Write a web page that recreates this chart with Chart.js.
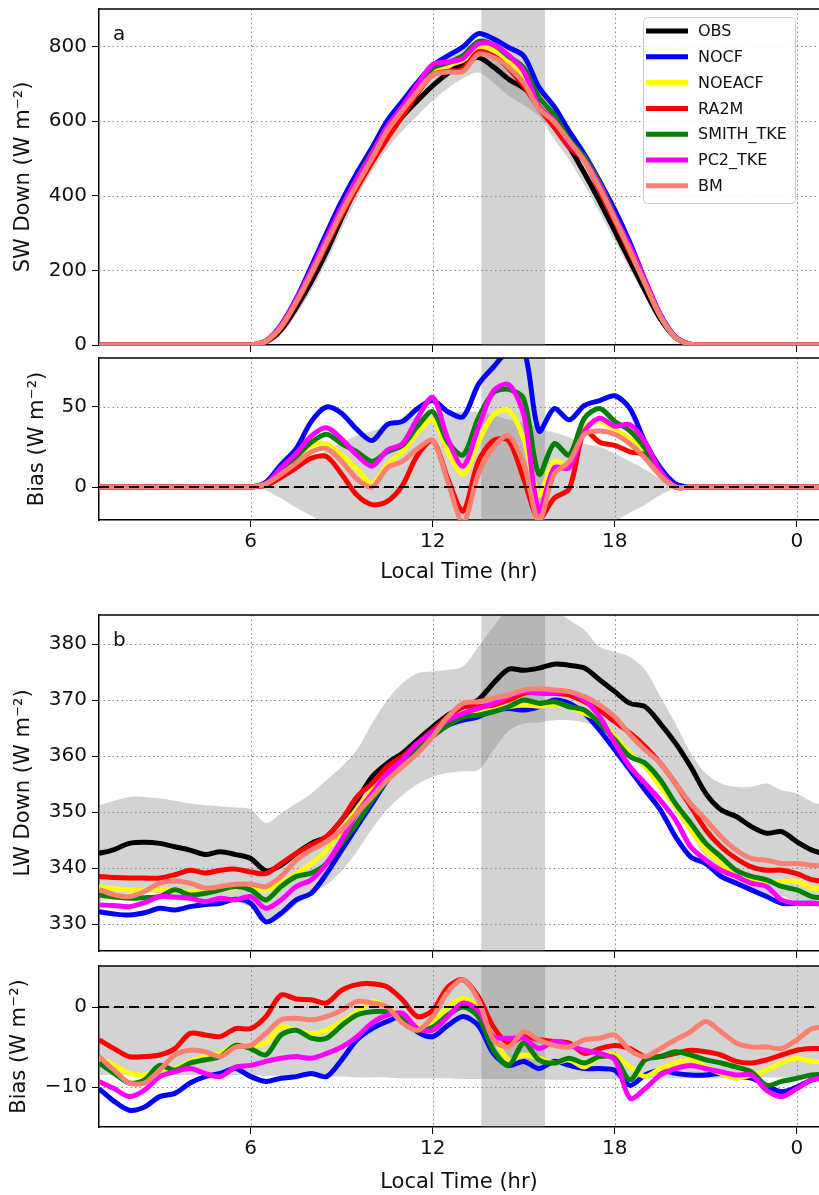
<!DOCTYPE html>
<html>
<head>
<meta charset="utf-8">
<script src="https://cdn.jsdelivr.net/npm/chart.js@4.4.1/dist/chart.umd.min.js"></script>
<style>
  html, body { margin: 0; padding: 0; background: #fff; overflow: hidden; width: 819px; height: 1195px; }
  canvas { position: absolute; left: 0; }
</style>
</head>
<body>
<canvas id="swChart" width="819" height="355" style="top:0px"></canvas>
<canvas id="swBias" width="819" height="235" style="top:350px"></canvas>
<canvas id="lwChart" width="819" height="361" style="top:600px"></canvas>
<canvas id="lwBias" width="819" height="234" style="top:961px"></canvas>
<script>
// ---- data -------------------------------------------------------------
const HOURS = [1,1.5,2,2.5,3,3.5,4,4.5,5,5.5,6,6.5,7,7.5,8,8.5,9,9.5,10,10.5,11,11.5,12,12.5,13,13.5,14,14.5,15,15.5,16,16.5,17,17.5,18,18.5,19,19.5,20,20.5,21,21.5,22,22.5,23,23.5,24,24.5,25];

const SERIES = ["OBS", "NOCF", "NOEACF", "RA2M", "SMITH_TKE", "PC2_TKE", "BM"];
const COLORS = ["#000000", "#0000ff", "#ffff00", "#ff0000", "#008000", "#ff00ff", "#fa8072"];

const X_TICKS = [6, 12, 18, 24];
const X_TICK_LABELS = ["6", "12", "18", "0"];
const SPAN_HOURS = [13.6, 15.7];

// SW down (W m-2)
const SW_OBS    = [0,0,0,0,0,0,0,0,0,0,0, 8,40,100,170,250,340,425,500,562,612,655,695,728,755,770,745,712,688,655,590,530,460,385,305,225,145,70,20, 2, 0,0,0,0,0,0,0,0,0];
const SW_NOCF   = [0,0,0,0,0,0,0,0,0,0,0, 11,54,124,211,300,386,461,529,601,653,704,749,775,799,834,820,797,774,690,639,572,511,439,362,274,173,82,22, 2, 0,0,0,0,0,0,0,0,0];
const SW_NOEACF = [0,0,0,0,0,0,0,0,0,0,0, 10,48,118,196,277,360,436,502,576,634,689,737,750,763,798,790,760,718,650,606,544,497,426,341,255,167,78,20, 2, 0,0,0,0,0,0,0,0,0];
const SW_RA2M   = [0,0,0,0,0,0,0,0,0,0,0, 9,46,112,188,269,348,420,489,553,613,675,724,733,740,786,774,741,693,635,583,529,495,413,331,247,165,78,20, 2, 0,0,0,0,0,0,0,0,0];
const SW_SMITH  = [0,0,0,0,0,0,0,0,0,0,0, 10,50,119,198,283,367,447,516,584,638,693,742,756,775,813,804,773,743,663,617,550,503,434,346,260,169,78,20, 2, 0,0,0,0,0,0,0,0,0];
const SW_PC2    = [0,0,0,0,0,0,0,0,0,0,0, 10,52,121,202,287,370,445,513,585,639,698,751,758,768,807,805,776,733,640,602,542,495,428,343,264,173,80,20, 2, 0,0,0,0,0,0,0,0,0];
const SW_BM     = [0,0,0,0,0,0,0,0,0,0,0, 10,48,115,192,274,356,430,500,574,628,679,724,731,733,778,770,744,702,634,598,546,493,420,338,252,163,77,20, 2, 0,0,0,0,0,0,0,0,0];
const SW_OBS_HI = [0,0,0,0,0,0,0,0,0,0,0, 11,50,118,194,278,370,457,534,598,650,695,735,768,795,810,787,757,733,697,628,565,492,415,332,247,160,78,23, 2, 0,0,0,0,0,0,0,0,0];
const SW_OBS_LO = [0,0,0,0,0,0,0,0,0,0,0, 5,30,82,146,222,310,393,466,526,574,615,655,688,715,730,703,667,643,613,552,495,428,355,278,203,130,62,17, 2, 0,0,0,0,0,0,0,0,0];

// SW bias (model - obs)
const SWB_NOCF   = [0,0,0,0,0,0,0,0,0,0,0, 3,14,24,41,50,46,36,29,39,41,49,54,47,44,64,75,85,86,35,49,42,51,54,57,49,28,12,2, 0,0,0,0,0,0,0,0,0,0];
const SWB_NOEACF = [0,0,0,0,0,0,0,0,0,0,0, 2,8,18,26,27,20,11,2,14,22,34,42,22,8,28,45,48,30,-5,16,14,37,41,36,30,22,8,0, 0,0,0,0,0,0,0,0,0,0];
const SWB_RA2M   = [0,0,0,0,0,0,0,0,0,0,0, 1,6,12,18,19,8,-5,-11,-9,1,20,29,5,-15,16,29,29,5,-20,-7,-1,35,28,26,22,20,8,0, 0,0,0,0,0,0,0,0,0,0];
const SWB_SMITH  = [0,0,0,0,0,0,0,0,0,0,0, 2,10,19,28,33,27,22,16,22,26,38,47,28,20,43,59,61,55,8,27,20,43,49,41,35,24,8,0, 0,0,0,0,0,0,0,0,0,0];
const SWB_PC2    = [0,0,0,0,0,0,0,0,0,0,0, 2,12,21,32,37,30,20,13,23,27,43,56,30,13,37,60,64,45,-15,12,12,35,43,38,39,28,10,0, 0,0,0,0,0,0,0,0,0,0];
const SWB_BM     = [0,0,0,0,0,0,0,0,0,0,0, 2,8,15,22,24,16,5,0,12,16,24,29,3,-22,8,25,32,14,-21,8,16,33,35,33,27,18,7,0, 0,0,0,0,0,0,0,0,0,0];
const SWB_SPREAD_HI = [0,0,0,0,0,0,0,0,0,0,0, 2,7,13,18,23,28,32,35,38,41,44,45,46,47,47,45,42,40,37,34,31,27,25,21,16,11,5,1, 0,0,0,0,0,0,0,0,0,0];
const SWB_SPREAD_LO = [0,0,0,0,0,0,0,0,0,0,0, -2,-7,-13,-18,-23,-28,-32,-35,-38,-41,-44,-45,-46,-47,-47,-45,-42,-40,-37,-34,-31,-27,-25,-21,-16,-11,-5,-1, 0,0,0,0,0,0,0,0,0,0];

// LW down (W m-2)
const LW_OBS    = [342.6,343.3,344.4,344.6,344.4,343.8,343.2,342.4,342.9,342.4,341.7,339.5,340.5,342.6,344.4,345.6,348.6,352.1,356.3,358.7,360.5,362.9,365.2,367.3,368.8,370.0,373.0,375.5,375.3,375.7,376.4,376.2,375.7,373.6,371.5,369.4,368.8,365.8,362.3,358.1,353.3,350.4,349.2,347.4,346.2,346.5,344.7,343.2,342.4];
const LW_NOCF   = [332.2,331.8,331.6,332.0,332.8,332.5,333.1,333.5,333.7,334.4,333.7,330.4,331.9,334.3,335.5,339.0,343.2,347.4,351.5,355.7,359.3,361.7,364.0,365.5,366.4,367.0,368.2,368.5,368.2,368.8,370.0,369.4,367.6,364.6,361.1,357.5,353.9,350.4,345.6,342.0,340.8,338.5,337.3,336.1,334.9,333.7,333.7,333.7,333.5];
const LW_NOEACF = [336.7,336.3,336.1,336.0,336.1,336.0,335.8,335.9,336.1,336.5,336.7,336.1,337.3,339.0,340.8,343.2,346.8,350.4,353.9,356.9,359.3,361.7,364.0,366.4,367.6,368.2,368.5,368.8,369.1,368.9,369.1,368.8,367.6,366.4,363.5,360.5,358.1,354.5,351.0,346.8,343.2,340.8,338.5,337.9,337.6,337.6,337.6,336.4,336.4];
const LW_RA2M   = [338.5,338.3,338.2,338.2,338.2,338.8,339.6,339.1,339.6,339.8,339.3,339.0,340.8,342.6,344.1,345.6,348.6,352.7,355.1,358.1,359.9,362.3,364.6,367.0,368.8,368.8,369.1,370.0,371.2,371.5,371.2,370.9,369.7,368.2,366.1,364.1,361.7,358.7,355.1,351.0,346.8,343.8,341.7,340.2,339.6,339.6,339.0,337.9,337.6];
const LW_SMITH  = [335.2,334.8,334.6,334.7,334.9,336.1,335.2,335.5,336.1,336.7,336.1,334.3,336.7,338.5,339.1,340.8,344.4,348.0,352.1,355.7,358.7,361.1,363.5,365.5,367.0,367.3,367.9,368.8,370.0,369.4,369.7,368.8,368.2,365.8,362.9,359.9,358.7,355.7,351.5,348.0,344.4,342.0,339.6,338.5,337.9,336.7,336.1,334.9,334.6];
const LW_PC2    = [333.4,333.3,333.1,333.8,334.9,334.8,334.6,334.0,334.6,334.3,334.9,332.8,334.3,336.7,337.9,340.8,345.0,349.8,353.3,356.9,359.3,362.3,364.3,366.4,367.6,368.5,369.4,370.6,371.5,371.2,371.2,371.5,370.0,367.0,362.3,358.1,355.1,352.1,348.6,343.8,341.4,339.6,338.5,337.3,336.7,334.3,333.7,333.7,333.6];
const LW_BM     = [336.2,335.2,334.9,335.8,337.3,337.7,337.3,336.4,336.7,337.1,337.1,336.7,338.5,341.4,343.2,344.7,346.8,349.8,352.7,355.7,358.1,360.5,363.5,367.0,369.4,369.7,370.3,370.9,371.8,372.0,371.8,371.5,370.6,369.1,367.0,363.8,361.1,358.7,355.1,351.5,348.6,345.6,343.2,341.7,341.4,340.8,340.8,340.5,340.3];
const LW_OBS_HI = [351.2,352.0,352.7,352.7,352.4,352.0,351.5,351.2,351.0,350.8,350.5,348.0,349.8,351.5,353.3,355.7,358.1,361.1,365.8,370.0,373.0,374.8,375.1,375.4,376.0,379.5,383.1,386.5,388.5,388.5,386.1,384.3,382.5,379.5,378.6,377.7,375.4,370.6,365.8,360.5,356.9,355.1,354.5,354.5,355.1,353.9,353.3,351.8,351.2];
const LW_OBS_LO = [334.0,335.0,335.5,335.8,335.5,335.0,334.5,334.2,334.5,334.0,333.0,331.0,331.5,333.5,335.5,337.0,339.5,343.0,347.0,350.5,353.0,355.0,356.3,357.0,357.3,357.5,361.0,364.5,365.8,366.0,366.4,366.4,366.0,365.0,362.5,360.0,357.5,354.0,350.0,346.0,342.0,339.0,337.5,336.0,335.0,335.0,334.0,333.5,333.8];

// LW bias (model - obs)
const LWB_NOCF   = [-10.2,-11.8,-12.9,-12.5,-11.2,-10.8,-9.5,-8.7,-8.3,-7.7,-8.7,-9.3,-8.9,-8.7,-8.3,-8.7,-6.6,-4.1,-2.7,-1.8,-1.2,-3.1,-3.7,-2.3,-1.2,-2.3,-5.8,-7.3,-6.8,-7.7,-6.8,-7.3,-7.7,-7.7,-7.9,-9.8,-8.5,-7.9,-8.3,-8.5,-8.5,-8.3,-8.7,-8.9,-9.8,-10.6,-10.0,-9.1,-8.8];
const LWB_NOEACF = [-6.4,-7.3,-8.3,-8.5,-7.9,-7.7,-6.8,-6.2,-5.8,-4.8,-4.8,-4.5,-2.5,-2.9,-3.3,-2.9,-1.8,-0.6,0.7,0.0,-1.4,-2.5,-2.0,0.0,1.1,0.0,-3.7,-6.6,-6.0,-6.4,-7.0,-6.6,-7.5,-6.2,-6.0,-7.5,-8.7,-7.7,-7.0,-6.6,-7.5,-8.3,-8.9,-8.5,-7.9,-7.0,-6.4,-6.8,-6.8];
const LWB_RA2M   = [-4.1,-5.2,-6.2,-6.2,-6.0,-5.2,-3.3,-3.5,-3.7,-2.7,-2.7,-1.2,1.5,1.0,0.9,0.5,2.1,2.8,2.9,2.5,0.9,-1.2,-0.4,2.5,3.4,1.3,-2.5,-4.5,-3.7,-4.1,-4.3,-4.5,-5.8,-5.2,-4.8,-5.2,-6.2,-6.2,-5.8,-5.4,-5.6,-6.0,-6.8,-7.0,-6.6,-6.0,-5.4,-5.2,-5.2];
const LWB_SMITH  = [-7.0,-8.3,-9.5,-9.1,-7.3,-7.9,-7.0,-6.6,-6.2,-4.8,-5.2,-6.0,-3.5,-2.9,-3.9,-3.9,-2.3,-1.0,-0.6,-0.6,-1.4,-2.9,-2.5,-1.0,0.0,-1.2,-5.4,-7.3,-4.5,-6.6,-7.0,-6.4,-7.0,-6.2,-6.4,-9.1,-6.6,-6.2,-5.6,-6.0,-6.6,-7.0,-7.5,-8.1,-9.8,-9.3,-8.9,-8.5,-8.4];
const LWB_PC2    = [-9.3,-10.2,-11.2,-10.4,-8.7,-8.1,-7.7,-8.3,-8.7,-7.5,-7.3,-6.8,-6.4,-6.2,-6.4,-5.8,-5.0,-3.7,-2.0,-1.0,-0.8,-2.7,-2.9,-1.2,0.5,-0.4,-3.7,-3.9,-3.9,-5.2,-4.3,-4.8,-5.4,-5.8,-6.6,-11.4,-10.2,-8.5,-7.7,-7.3,-7.7,-8.1,-8.5,-8.5,-10.4,-11.2,-10.2,-9.1,-8.8];
const LWB_BM     = [-6.2,-7.9,-9.5,-9.5,-7.9,-6.0,-5.4,-5.6,-6.2,-5.0,-4.8,-3.3,-1.6,-1.4,-1.6,-1.2,-0.4,0.7,0.5,0.0,-2.0,-2.9,-1.2,1.9,3.4,0.9,-4.1,-5.0,-3.1,-4.1,-4.8,-5.0,-4.1,-3.9,-3.5,-5.4,-6.2,-5.2,-4.1,-3.1,-1.8,-3.1,-4.5,-5.0,-5.0,-5.2,-4.1,-2.7,-2.5];
const LWB_SPREAD_HI = [8.5,8.5,8.5,8.5,8.5,8.5,8.5,8.5,8.5,8.5,8.5,8.6,8.6,8.6,8.7,8.7,8.7,8.8,8.8,8.8,8.9,8.9,8.9,8.9,9.0,9.0,9.0,9.0,9.0,9.0,9.1,9.1,9.0,9.0,9.0,8.9,8.9,8.9,8.9,8.9,8.9,8.9,8.9,8.8,8.8,8.8,8.7,8.7,8.7];
const LWB_SPREAD_LO = [-8.5,-8.5,-8.5,-8.5,-8.5,-8.5,-8.5,-8.5,-8.5,-8.5,-8.5,-8.6,-8.6,-8.6,-8.7,-8.7,-8.7,-8.8,-8.8,-8.8,-8.9,-8.9,-8.9,-8.9,-9.0,-9.0,-9.0,-9.0,-9.0,-9.0,-9.1,-9.1,-9.0,-9.0,-9.0,-8.9,-8.9,-8.9,-8.9,-8.9,-8.9,-8.9,-8.9,-8.8,-8.8,-8.8,-8.7,-8.7,-8.7];

const SW_Y_TICKS = [0, 200, 400, 600, 800];
const SWB_Y_TICKS = [0, 50];
const LW_Y_TICKS = [330, 340, 350, 360, 370, 380];
const LWB_Y_TICKS = [-10, 0];

// ---- styling ----------------------------------------------------------
const FONT = "'DejaVu Sans', sans-serif";
const SHADE = "rgba(128,128,128,0.35)";
const X_MIN = 1, X_MAX = 24.73;

function pts(vals) {
  return HOURS.map((h, i) => ({ x: h, y: vals[i] }));
}

function line(idx, vals, order) {
  return {
    label: SERIES[idx], data: pts(vals),
    borderColor: COLORS[idx], backgroundColor: COLORS[idx],
    borderWidth: 5, pointRadius: 0, tension: 0.3, fill: false, clip: 0,
    borderJoinStyle: "round", order: order
  };
}

function band(hi, lo) {
  return [
    { data: pts(hi), borderWidth: 0, pointRadius: 0, tension: 0.3, fill: "+1", backgroundColor: SHADE, clip: 0, order: 100 },
    { data: pts(lo), borderWidth: 0, pointRadius: 0, tension: 0.3, fill: false, clip: 0, order: 100 }
  ];
}

function minusFmt(v) {
  return v < 0 ? "\u2212" + Math.abs(v) : String(v);
}

function xAxis(showLabels, height) {
  return {
    type: "linear", min: X_MIN, max: X_MAX,
    afterBuildTicks: s => { s.ticks = X_TICKS.map(v => ({ value: v })); },
    afterFit: s => { s.height = height; s.paddingLeft = 0; s.paddingRight = 0; },
    grid: { drawOnChartArea: false, drawTicks: true, tickLength: 7, color: "#000", lineWidth: 1 },
    border: { display: true, color: "#000", width: 1.5 },
    ticks: {
      display: showLabels, padding: 3, color: "#111", maxRotation: 0, autoSkip: false,
      font: { family: FONT, size: 20 },
      callback: v => X_TICK_LABELS[X_TICKS.indexOf(v)]
    },
    title: { display: showLabels, text: "Local Time (hr)", color: "#111", font: { family: FONT, size: 21 }, padding: 0 }
  };
}

function yAxis(min, max, ticks, title, titlePad) {
  return {
    min: min, max: max,
    afterBuildTicks: s => { s.ticks = ticks.map(v => ({ value: v })); },
    afterFit: s => { s.width = 99; s.paddingTop = 0; s.paddingBottom = 0; },
    grid: { drawOnChartArea: false, drawTicks: true, tickLength: 7, color: "#000", lineWidth: 1 },
    border: { display: true, color: "#000", width: 1.5 },
    ticks: { padding: 5, color: "#111", font: { family: FONT, size: 20 }, callback: minusFmt },
    title: { display: true, text: title, color: "#111", font: { family: FONT, size: 21 }, padding: { top: titlePad, bottom: 0 } }
  };
}

function drawLegend(chart) {
  const ctx = chart.ctx;
  const items = chart.data.datasets.filter(d => d.label);
  ctx.fillStyle = "rgba(255,255,255,0.85)";
  ctx.strokeStyle = "#cccccc";
  ctx.lineWidth = 1;
  ctx.beginPath();
  ctx.roundRect(643.5, 17.5, 152, 186, 4);
  ctx.fill();
  ctx.stroke();
  ctx.font = "16px " + FONT;
  ctx.textBaseline = "middle";
  ctx.textAlign = "left";
  items.forEach((d, i) => {
    const cy = 31 + i * 25.8;
    ctx.strokeStyle = d.borderColor;
    ctx.lineWidth = 5;
    ctx.beginPath();
    ctx.moveTo(646, cy);
    ctx.lineTo(688, cy);
    ctx.stroke();
    ctx.fillStyle = "#111";
    ctx.fillText(d.label, 698, cy + 1);
  });
}

// span, dotted grid, zero line, top spine, panel letter and legend
const decor = {
  id: "decor",
  beforeDatasetsDraw(chart, args, o) {
    const { ctx, chartArea: a, scales: { x, y } } = chart;
    ctx.save();
    ctx.beginPath();
    ctx.rect(a.left, a.top, a.right - a.left, a.bottom - a.top);
    ctx.clip();
    const s0 = x.getPixelForValue(SPAN_HOURS[0]);
    const s1 = x.getPixelForValue(SPAN_HOURS[1]);
    ctx.fillStyle = SHADE;
    ctx.fillRect(s0, a.top, s1 - s0, a.bottom - a.top);
    ctx.strokeStyle = "#8a8a8a";
    ctx.lineWidth = 1;
    ctx.setLineDash([1.5, 3]);
    ctx.beginPath();
    X_TICKS.forEach(v => {
      const p = Math.round(x.getPixelForValue(v)) + 0.5;
      ctx.moveTo(p, a.top); ctx.lineTo(p, a.bottom);
    });
    o.yTicks.forEach(v => {
      const p = Math.round(y.getPixelForValue(v)) + 0.5;
      ctx.moveTo(a.left, p); ctx.lineTo(a.right, p);
    });
    ctx.stroke();
    ctx.restore();
  },
  afterDatasetsDraw(chart, args, o) {
    const { ctx, chartArea: a, scales: { y } } = chart;
    ctx.save();
    if (o.zero) {
      const p = y.getPixelForValue(0);
      ctx.strokeStyle = "#000";
      ctx.lineWidth = 2;
      ctx.setLineDash([10, 5]);
      ctx.beginPath();
      ctx.moveTo(a.left, p); ctx.lineTo(a.right, p);
      ctx.stroke();
      ctx.setLineDash([]);
    }
    ctx.strokeStyle = "#000";
    ctx.lineWidth = 1.5;
    ctx.beginPath();
    ctx.moveTo(a.left, a.top); ctx.lineTo(a.right, a.top);
    ctx.stroke();
    if (o.letter) {
      ctx.fillStyle = "#111";
      ctx.font = "20px " + FONT;
      ctx.textBaseline = "middle";
      ctx.textAlign = "left";
      ctx.fillText(o.letter, a.left + 14, a.top + 26);
    }
    if (o.legend) drawLegend(chart);
    ctx.restore();
  }
};

function makeChart(id, datasets, padTop, xCfg, yCfg, decorOpts) {
  return new Chart(document.getElementById(id), {
    type: "line",
    data: { datasets: datasets },
    options: {
      responsive: false, animation: false, devicePixelRatio: 1,
      layout: { padding: { top: padTop, left: 0, right: 0, bottom: 0 } },
      scales: { x: xCfg, y: yCfg },
      plugins: { legend: { display: false }, tooltip: { enabled: false }, decor: decorOpts }
    },
    plugins: [decor]
  });
}

// a: SW down
makeChart("swChart", [
  ...band(SW_OBS_HI, SW_OBS_LO),
  line(0, SW_OBS, 0), line(1, SW_NOCF, -1), line(2, SW_NOEACF, -2), line(3, SW_RA2M, -3),
  line(4, SW_SMITH, -4), line(5, SW_PC2, -5), line(6, SW_BM, -6)
], 9, xAxis(false, 10), yAxis(0, 900, SW_Y_TICKS, "SW Down (W m\u207B\u00B2)", 11),
  { yTicks: SW_Y_TICKS, letter: "a", legend: true });

// a: SW bias
makeChart("swBias", [
  ...band(SWB_SPREAD_HI, SWB_SPREAD_LO),
  line(1, SWB_NOCF, -1), line(2, SWB_NOEACF, -2), line(3, SWB_RA2M, -3),
  line(4, SWB_SMITH, -4), line(5, SWB_PC2, -5), line(6, SWB_BM, -6)
], 8, xAxis(true, 65), yAxis(-20.6, 80.6, SWB_Y_TICKS, "Bias (W m\u207B\u00B2)", 25),
  { yTicks: SWB_Y_TICKS, zero: true });

// b: LW down
makeChart("lwChart", [
  ...band(LW_OBS_HI, LW_OBS_LO),
  line(0, LW_OBS, 0), line(1, LW_NOCF, -1), line(2, LW_NOEACF, -2), line(3, LW_RA2M, -3),
  line(4, LW_SMITH, -4), line(5, LW_PC2, -5), line(6, LW_BM, -6)
], 15, xAxis(false, 10), yAxis(325.18, 385.18, LW_Y_TICKS, "LW Down (W m\u207B\u00B2)", 11),
  { yTicks: LW_Y_TICKS, letter: "b" });

// b: LW bias
makeChart("lwBias", [
  ...band(LWB_SPREAD_HI, LWB_SPREAD_LO),
  line(1, LWB_NOCF, -1), line(2, LWB_NOEACF, -2), line(3, LWB_RA2M, -3),
  line(4, LWB_SMITH, -4), line(5, LWB_PC2, -5), line(6, LWB_BM, -6)
], 5, xAxis(true, 68), yAxis(-15, 5.125, LWB_Y_TICKS, "Bias (W m\u207B\u00B2)", 7),
  { yTicks: LWB_Y_TICKS, zero: true });
</script>
</body>
</html>
